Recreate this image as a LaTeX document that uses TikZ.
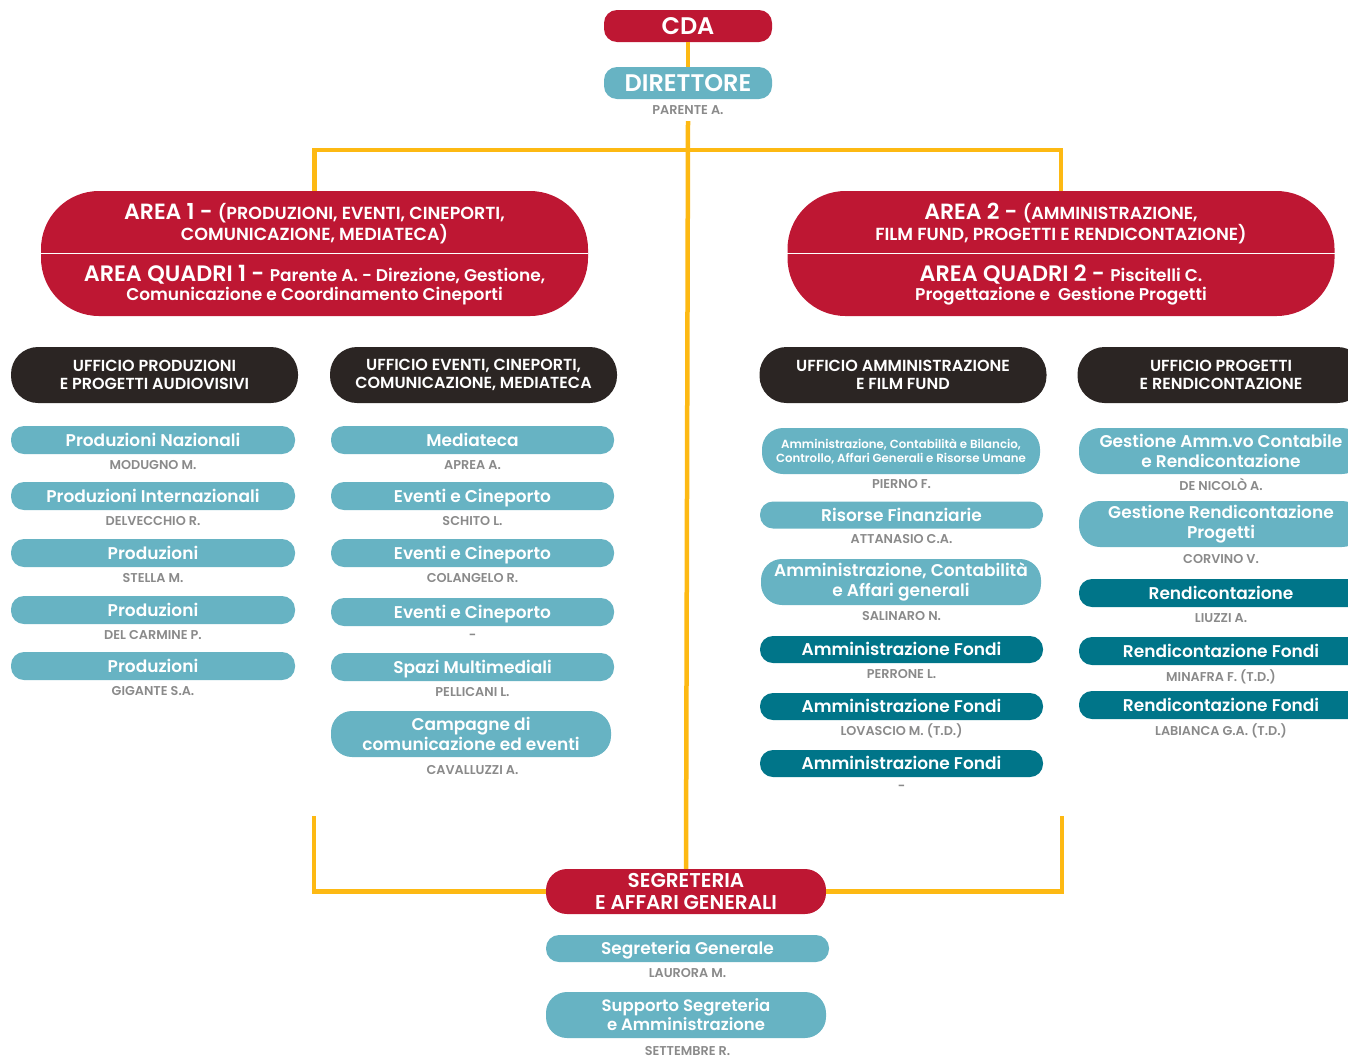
\documentclass[tikz,border=0pt]{standalone}
\usepackage{fontspec}
\setmainfont{Poppins}[BoldFont={Poppins SemiBold}]
\definecolor{cred}{HTML}{BE1733}
\definecolor{clight}{HTML}{67B3C3}
\definecolor{cteal}{HTML}{007589}
\definecolor{cdark}{HTML}{2B2523}
\definecolor{cyel}{HTML}{FDB913}
\definecolor{cgrey}{HTML}{8A8A8A}
\tikzset{
  yline/.style={draw=cyel, line width=4.5pt},
  topbox/.style={fill=#1, text=white, rounded corners=13pt, minimum width=168pt, minimum height=32pt, inner sep=0pt, text height=17pt, text depth=0pt, font=\bfseries\fontsize{24}{26}\selectfont},
  areabox/.style={fill=cred, rounded corners=58pt, minimum width=547pt, minimum height=125pt, inner sep=0pt},
  areatxt/.style={text=white, align=center, inner sep=0pt, font=\bfseries\fontsize{17.5}{19}\selectfont},
  dbox/.style={fill=cdark, text=white, rounded corners=27pt, minimum width=287pt, minimum height=56pt, inner sep=0pt, align=center, font=\bfseries\fontsize{16}{18}\selectfont},
  lbase/.style={fill=clight, text=white, rounded corners=13pt, minimum width=284pt, minimum height=28pt, inner sep=0pt, align=center, font=\bfseries\fontsize{17}{20}\selectfont},
  lbox/.style={lbase, text height=12pt, text depth=0pt},
  tbox/.style={lbox, fill=cteal},
  lboxtwo/.style={lbase, minimum height=46pt, rounded corners=21pt},
  nm/.style={text=cgrey, inner sep=0pt, font=\bfseries\fontsize{12.8}{14}\selectfont},
  segbox/.style={fill=cred, text=white, rounded corners=21pt, minimum width=280pt, minimum height=45pt, inner sep=0pt, align=center, font=\bfseries\fontsize{20}{22}\selectfont},
}
\begin{document}
\begin{tikzpicture}[x=1pt,y=-1pt]
\useasboundingbox (0,0) rectangle (1348,1058);
\clip (0,0) rectangle (1348,1058);

% top
\node[topbox=cred] (cda) at (688,26) {CDA};
\node[topbox=clight] (dir) at (688,83) {DIRETTORE};
\node[nm] (dirn) at (688,110) {PARENTE A.};

% areas
\node[areabox] (a1) at (314.5,253.5) {};
\node[areabox] (a2) at (1061,253.5) {};
\draw[white, line width=1.8pt] (a1.west) -- (a1.east);
\draw[white, line width=1.8pt] (a2.west) -- (a2.east);
\node[areatxt] (a1t) at (314.5,223.5) {{\fontsize{22}{19}\selectfont AREA 1 - }(PRODUZIONI, EVENTI, CINEPORTI,\\COMUNICAZIONE, MEDIATECA)};
\node[areatxt, font=\bfseries\fontsize{17}{19}\selectfont] (a1b) at (314.5,285.5) {{\fontsize{22.3}{19}\selectfont AREA QUADRI 1 - }Parente A. - Direzione, Gestione,\\Comunicazione e Coordinamento Cineporti};
\node[areatxt] (a2t) at (1061,223.5) {{\fontsize{22}{19}\selectfont AREA 2 - }(AMMINISTRAZIONE,\\FILM FUND, PROGETTI E RENDICONTAZIONE)};
\node[areatxt, font=\bfseries\fontsize{17}{19}\selectfont] (a2b) at (1061,285.5) {{\fontsize{22.3}{19}\selectfont AREA QUADRI 2 - }Piscitelli C.\\Progettazione e\ \ Gestione Progetti};

% connector points
\coordinate (hb) at (688,150);
\coordinate (spinetop) at (688,121);
\coordinate (bl) at (314,816);
\coordinate (br) at (1062,816);

% offices
\node[dbox] (u1) at (154.5,375) {UFFICIO PRODUZIONI\\E PROGETTI AUDIOVISIVI};
\node[dbox] (u2) at (473.5,375) {UFFICIO EVENTI, CINEPORTI,\\COMUNICAZIONE, MEDIATECA};
\node[dbox] (u3) at (903,375) {UFFICIO AMMINISTRAZIONE\\E FILM FUND};
\node[dbox] (u4) at (1221,375) {UFFICIO PROGETTI\\E RENDICONTAZIONE};

% column 1
\node[lbox] (p1) at (153,440) {Produzioni Nazionali};
\node[nm] (p1n) at (153,465) {MODUGNO M.};
\node[lbox] (p2) at (153,496) {Produzioni Internazionali};
\node[nm] (p2n) at (153,521) {DELVECCHIO R.};
\node[lbox] (p3) at (153,553) {Produzioni};
\node[nm] (p3n) at (153,578) {STELLA M.};
\node[lbox] (p4) at (153,610) {Produzioni};
\node[nm] (p4n) at (153,635) {DEL CARMINE P.};
\node[lbox] (p5) at (153,666) {Produzioni};
\node[nm] (p5n) at (153,691) {GIGANTE S.A.};

% column 2
\node[lbox, minimum width=283pt] (e1) at (472.5,440) {Mediateca};
\node[nm] (e1n) at (472.5,465) {APREA A.};
\node[lbox, minimum width=283pt] (e2) at (472.5,496) {Eventi e Cineporto};
\node[nm] (e2n) at (472.5,521) {SCHITO L.};
\node[lbox, minimum width=283pt] (e3) at (472.5,553) {Eventi e Cineporto};
\node[nm] (e3n) at (472.5,578) {COLANGELO R.};
\node[lbox, minimum width=283pt] (e4) at (472.5,612) {Eventi e Cineporto};
\node[nm] (e4n) at (472.5,637) {-};
\node[lbox, minimum width=283pt] (e5) at (472.5,667) {Spazi Multimediali};
\node[nm] (e5n) at (472.5,692) {PELLICANI L.};
\node[lboxtwo, minimum width=280pt] (e6) at (471,734) {Campagne di\\comunicazione ed eventi};
\node[nm] (e6n) at (472.5,770) {CAVALLUZZI A.};

% column 3
\node[lboxtwo, minimum width=278pt, font=\bfseries\fontsize{11.8}{14}\selectfont] (m1) at (901,451) {Amministrazione, Contabilità e Bilancio,\\Controllo, Affari Generali e Risorse Umane};
\node[nm] (m1n) at (901.5,484) {PIERNO F.};
\node[lbox, minimum width=283pt, minimum height=27pt] (m2) at (901.5,515) {Risorse Finanziarie};
\node[nm] (m2n) at (901.5,539) {ATTANASIO C.A.};
\node[lboxtwo, minimum width=280pt] (m3) at (901,582) {Amministrazione, Contabilità\\e Affari generali};
\node[nm] (m3n) at (901.5,616) {SALINARO N.};
\node[tbox, minimum width=283pt, minimum height=27pt] (m4) at (901.5,649.5) {Amministrazione Fondi};
\node[nm] (m4n) at (901.5,674) {PERRONE L.};
\node[tbox, minimum width=283pt, minimum height=27pt] (m5) at (901.5,706.5) {Amministrazione Fondi};
\node[nm] (m5n) at (901.5,731) {LOVASCIO M. (T.D.)};
\node[tbox, minimum width=283pt, minimum height=27pt] (m6) at (901.5,763.5) {Amministrazione Fondi};
\node[nm] (m6n) at (901.5,788) {-};

% column 4
\node[lboxtwo] (r1) at (1221,451) {Gestione Amm.vo Contabile\\e Rendicontazione};
\node[nm] (r1n) at (1221,484) {DE NICOLÒ A.};
\node[lboxtwo] (r2) at (1221,524) {Gestione Rendicontazione\\Progetti};
\node[nm] (r2n) at (1221,559) {CORVINO V.};
\node[tbox] (r3) at (1221,593) {Rendicontazione};
\node[nm] (r3n) at (1221,618) {LIUZZI A.};
\node[tbox] (r4) at (1221,651) {Rendicontazione Fondi};
\node[nm] (r4n) at (1221,677) {MINAFRA F. (T.D.)};
\node[tbox] (r5) at (1221,705) {Rendicontazione Fondi};
\node[nm] (r5n) at (1221,731) {LABIANCA G.A. (T.D.)};

% segreteria
\node[segbox] (seg) at (686,891.5) {SEGRETERIA\\E AFFARI GENERALI};
\node[lbox, minimum width=283pt, minimum height=27pt] (s1) at (687.5,948.5) {Segreteria Generale};
\node[nm] (s1n) at (687.5,973) {LAURORA M.};
\node[lboxtwo, minimum width=280pt, font=\bfseries\fontsize{16.5}{19}\selectfont] (s2) at (686,1015) {Supporto Segreteria\\e Amministrazione};
\node[nm] (s2n) at (687.5,1051) {SETTEMBRE R.};

% yellow connectors
\draw[yline] (cda.south) -- (dir.north);
\draw[yline] (spinetop) -- (seg.north);
\draw[yline] (a1.north) |- (hb) -| (a2.north);
\draw[yline] (bl) |- (seg.west);
\draw[yline] (br) |- (seg.east);
\end{tikzpicture}
\end{document}
